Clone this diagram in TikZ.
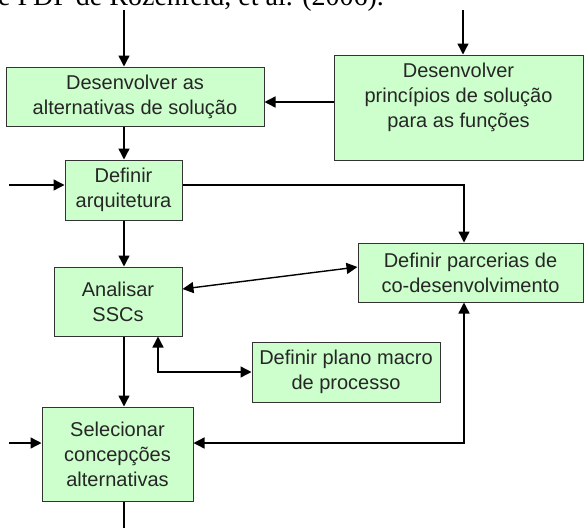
\documentclass[tikz,border=0pt]{standalone}
\usepackage{fontspec}
\setmainfont{Liberation Sans}
\newfontfamily\capfont{Liberation Serif}
\usetikzlibrary{arrows.meta}

\begin{document}
\begin{tikzpicture}[x=1pt, y=-1pt,
    box/.style={draw=black!80, fill=green!20, line width=1pt, align=center, inner sep=0pt, font=\fontsize{20}{25}\selectfont, text=black!85},
    lbl/.style={align=center, inner sep=0pt, font=\fontsize{20}{25}\selectfont, text=black!85},
    arr/.style={line width=1.4pt, -{Triangle[length=11pt,width=11pt]}},
    arrs/.style={line width=1.4pt, {Triangle[length=11pt,width=11pt]}-{Triangle[length=11pt,width=11pt]}}]
                \useasboundingbox (0,0) rectangle (584,528);
                \clip (0,0) rectangle (584,528);
                \node[anchor=base west, inner sep=0pt, font=\capfont\fontsize{28}{30}\selectfont] (caption) at (-2,5) {e PDP de Rozenfeld, et al. (2006).};

                \node[box, minimum width=258pt, minimum height=59pt] (devalt) at (135,96.5) {Desenvolver as\\alternativas de solução};
                \node[box, minimum width=249pt, minimum height=105pt] (princ) at (458.5,107.5) {};
                \node[lbl, anchor=north] (princtxt) at ([yshift=-8pt]princ.north) {Desenvolver\\princípios de solução\\para as funções};
                \node[box, minimum width=117pt, minimum height=60pt] (arq) at (123.5,190) {Definir\\arquitetura};
                \node[box, minimum width=128pt, minimum height=69pt] (ssc) at (118,301.5) {Analisar\\SSCs};
                \node[box, minimum width=225pt, minimum height=59pt] (parc) at (470.5,272.5) {Definir parcerias de\\co-desenvolvimento};
                \node[box, minimum width=188pt, minimum height=60pt] (plano) at (346,372) {Definir plano macro\\de processo};
                \node[box, minimum width=151pt, minimum height=94pt] (sel) at (117.5,454) {Selecionar\\concepções\\alternativas};

                \coordinate (top1) at (124,10);
                \coordinate (top2) at (463,10);
                \coordinate (left1) at (9,185);
                \coordinate (left2) at (9,443);
                \coordinate (bus) at (464,185);
                \coordinate (out) at (124,528);

                \draw[arr] (top1) -- (top1 |- devalt.north);
                \draw[arr] (top2) -- (top2 |- princ.north);
                \draw[arr] (princ.west |- 0,102) -- (devalt.east |- 0,102);
                \draw[arr] (top1 |- devalt.south) -- (top1 |- arq.north);
                \draw[arr] (left1) -- (left1 -| arq.west);
                \draw[arr] (left1 -| arq.east) -| (bus |- parc.north);
                \draw[arr] (top1 |- arq.south) -- (top1 |- ssc.north);
                \draw[arrs] (ssc.east |- 0,289) -- (parc.west |- 0,267);
                \draw[arr] (top1 |- ssc.south) -- (top1 |- sel.north);
                \draw[arrs] (158,0 |- ssc.south) |- (plano.west);
                \draw[arrs] (sel.east |- left2) -| (bus |- parc.south);
                \draw[arr] (left2) -- (left2 -| sel.west);
                \draw[line width=1.4pt] (top1 |- sel.south) -- (out);
            \end{tikzpicture}
\end{document}
